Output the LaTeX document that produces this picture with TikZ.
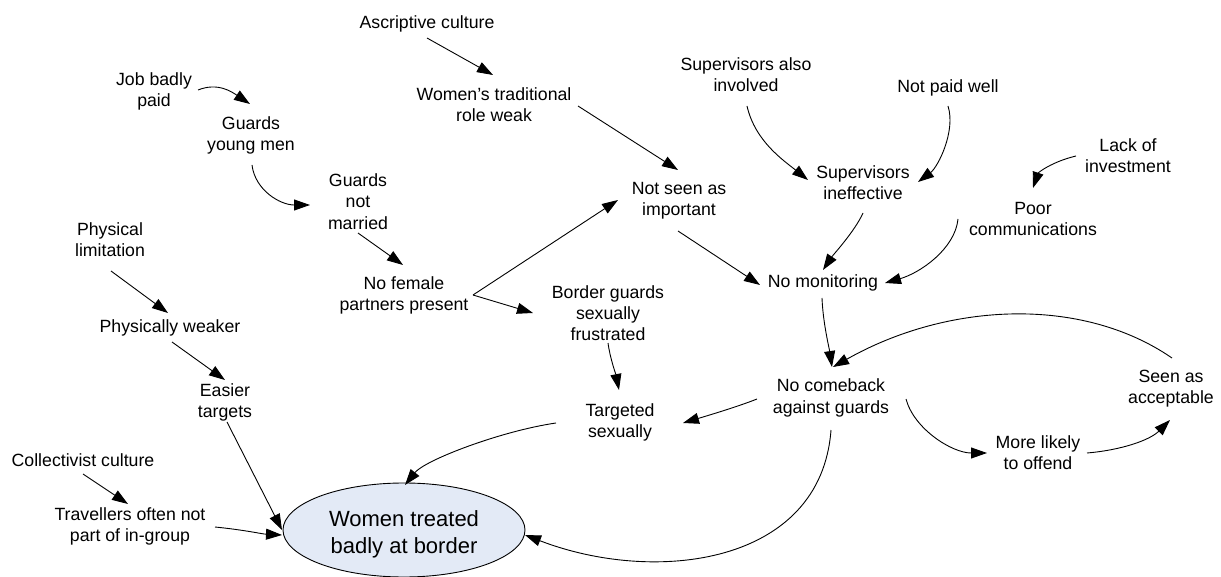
\documentclass[tikz,border=0pt]{standalone}
\usepackage{fontspec}
\setmainfont{Liberation Sans}
\usetikzlibrary{arrows.meta,calc,shapes.geometric}
\definecolor{outcomefill}{RGB}{227,234,246}
\begin{document}
\begin{tikzpicture}[x=1pt,y=-1pt,
  lbl/.style={align=center,inner sep=0pt,font=\fontsize{17.7}{21.3}\selectfont},
  link/.style={line width=0.9pt,-{Triangle[length=16pt,width=11pt]}},
  outcome/.style={ellipse,draw,line width=0.9pt,fill=outcomefill,
    minimum width=242pt,minimum height=94pt,inner sep=0pt,align=center,
    font=\fontsize{22}{26.5}\selectfont}]
\useasboundingbox (0,0) rectangle (1221,577);

% causes and effects
\node[lbl] (asc) at (427,24)    {Ascriptive culture};
\node[lbl] (job) at (154,91.5)  {Job badly\\paid};
\node[lbl] (gym) at (251,135.5) {Guards\\young men};
\node[lbl] (gnm) at (358,201.5) {Guards\\not\\married};
\node[lbl] (phl) at (110,240)   {Physical\\limitation};
\node[lbl] (wtr) at (494,105)   {Women’s traditional\\role weak};
\node[lbl] (sai) at (746,74.5)  {Supervisors also\\involved};
\node[lbl] (npw) at (948,88)    {Not paid well};
\node[lbl] (loi) at (1128,156)  {Lack of\\investment};
\node[lbl] (sie) at (863,182.5) {Supervisors\\ineffective};
\node[lbl] (pco) at (1033,219)  {Poor\\communications};
\node[lbl] (nsi) at (679,201)   {Not seen as\\important};
\node[lbl] (nfp) at (404,295.5) {No female\\partners present};
\node[lbl] (nmo) at (823,283)   {No monitoring};
\node[lbl] (phw) at (170,328)   {Physically weaker};
\node[lbl] (bgs) at (608,313)   {Border guards\\sexually\\frustrated};
\node[lbl] (eas) at (225,402.5) {Easier\\targets};
\node[lbl] (col) at (83,460)    {Collectivist culture};
\node[lbl] (trv) at (130,526.5) {Travellers often not\\part of in-group};
\node[lbl] (tgs) at (620,422.5) {Targeted\\sexually};
\node[lbl] (ncb) at (831,398)   {No comeback\\against guards};
\node[lbl] (saa) at (1171,389)  {Seen as\\acceptable};
\node[lbl] (mlo) at (1038,452.5){More likely\\to offend};
% the outcome; the strut lowers the two lines a little inside the ellipse
\node[outcome] (wtb) at (404,530) {\rule{0pt}{25pt}Women treated\\badly at border};

% causal links
\draw[link] ($(job)+(44,-1.5)$) .. controls +(20,-8) and +(-18,-12) .. ($(gym)+(-1,-31.5)$);
\draw[link] ($(gym)+(1,29.5)$) .. controls +(3,25) and +(-30,0) .. ($(gnm)+(-48,3.5)$);
\draw[link] ($(gnm)+(0,31.5)$) -- ($(nfp)+(-1,-30.5)$);
\draw[link] ($(asc)+(0,14)$) -- ($(wtr)+(-1,-30)$);
\draw[link] ($(wtr)+(84,1)$) -- ($(nsi)+(-1,-31)$);
\draw[link] ($(nsi)+(-1,30)$) -- ($(nmo)+(-63,2)$);
\draw[link] ($(nfp)+(69,-0.5)$) -- ($(nsi)+(-61,-1)$);
\draw[link] ($(nfp)+(69,-0.5)$) -- ($(bgs)+(-75,0)$);
\draw[link] ($(sai)+(1,31.5)$) .. controls +(8,35) and +(-25,-20) .. ($(sie)+(-55,-2.5)$);
\draw[link] ($(npw)+(0,18)$) .. controls +(8,25) and +(20,-15) .. ($(sie)+(55,-0.5)$);
\draw[link] ($(loi)+(-52,0)$) .. controls +(-25,6) and +(5,-15) .. ($(pco)+(0,-31)$);
\draw[link] ($(sie)+(0,30.5)$) .. controls +(-8,18) and +(10,-15) .. ($(nmo)+(0,-13)$);
\draw[link] ($(pco)+(-75,0)$) .. controls +(-3,30) and +(35,-10) .. ($(nmo)+(62,0)$);
\draw[link] ($(nmo)+(-1,15)$) .. controls +(1,25) and +(-3,-20) .. ($(ncb)+(1,-31)$);
\draw[link] ($(saa)+(1,-31)$) .. controls +(-90,-62) and +(115,-65) .. ($(ncb)+(2,-31)$);
\draw[link] ($(ncb)+(-74,1)$) .. controls +(-20,8) and +(20,-6) .. ($(tgs)+(63,0.5)$);
\draw[link] ($(bgs)+(0,30)$) .. controls +(2,15) and +(-3,-15) .. ($(tgs)+(-1,-32.5)$);
\draw[link] ($(tgs)+(-64,0.5)$) .. controls +(-55,8) and +(20,-25) .. ($(wtb)+(1,-45)$);
\draw[link] ($(eas)+(2,19.5)$) -- ($(wtb)+(-122,0)$);
\draw[link] ($(trv)+(85,0.5)$) .. controls +(30,3) and +(-20,-1) .. ($(wtb)+(-122,5)$);
\draw[link] ($(col)+(0,14)$) -- ($(trv)+(-2,-22.5)$);
\draw[link] ($(phl)+(1,31)$) -- ($(phw)+(-2,-15)$);
\draw[link] ($(phw)+(2,14)$) -- ($(eas)+(0,-22.5)$);
\draw[link] ($(ncb)+(0,32)$) .. controls +(-10,135) and +(130,50) .. ($(wtb)+(121,5)$);
\draw[link] ($(ncb)+(75,1)$) .. controls +(8,30) and +(-35,0) .. ($(mlo)+(-51,0.5)$);
\draw[link] ($(mlo)+(49,0.5)$) .. controls +(35,-3) and +(-20,20) .. ($(saa)+(-1,31)$);
\end{tikzpicture}
\end{document}
